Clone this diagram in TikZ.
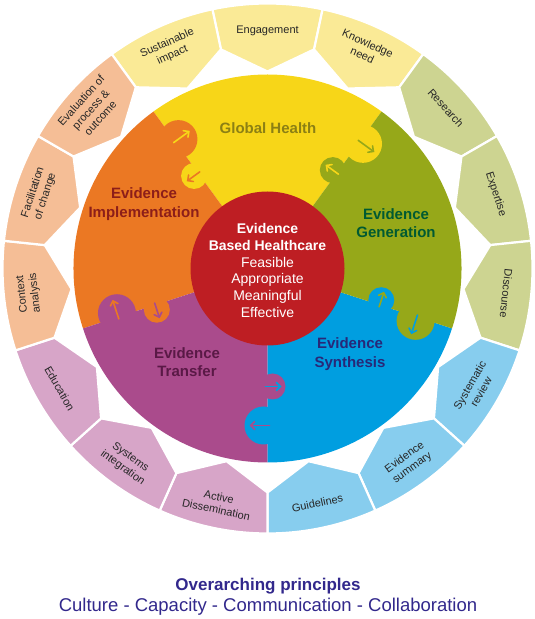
\documentclass[tikz,border=0pt]{standalone}
\usepackage{fontspec}
\setmainfont{Liberation Sans}
\usetikzlibrary{arrows.meta,calc}
\definecolor{cY}{RGB}{247,214,24}
\definecolor{cG}{RGB}{150,168,25}
\definecolor{cB}{RGB}{0,158,224}
\definecolor{cP}{RGB}{170,75,140}
\definecolor{cO}{RGB}{235,120,35}
\definecolor{cR}{RGB}{190,30,35}
\definecolor{lY}{RGB}{250,234,150}
\definecolor{lG}{RGB}{205,212,145}
\definecolor{lB}{RGB}{135,205,238}
\definecolor{lP}{RGB}{215,165,200}
\definecolor{lO}{RGB}{245,190,150}
\definecolor{tY}{RGB}{140,128,20}
\definecolor{tG}{RGB}{0,90,50}
\definecolor{tB}{RGB}{40,40,120}
\definecolor{tP}{RGB}{90,25,70}
\definecolor{tO}{RGB}{140,30,25}
\definecolor{tBot}{RGB}{50,40,140}
\begin{document}
\begin{tikzpicture}[x=1pt,y=1pt,
  seg/.style={draw=white,line width=2.2pt,line join=round},
  seglabel/.style={font=\fontsize{11}{13}\selectfont,text=black!85,align=center},
  piecelabel/.style={font=\bfseries\fontsize{15}{18.5}\selectfont,align=center},
  knobarrow/.style={line width=1.6pt,line cap=round,-{Straight Barb[length=4pt,width=8pt,line cap=round]}},
]
\useasboundingbox (0,0) rectangle (535,619);
\begin{scope}[shift={(267.5,350.5)}]
% outer ring segments
\foreach \m/\c in {90/lY,66/lY,114/lY,42/lG,18/lG,-6/lG,-30/lB,-54/lB,-78/lB,-102/lP,-126/lP,-150/lP,-174/lO,162/lO,138/lO}
  \path[seg,fill=\c] (\m-12:224) -- (\m-12:265) arc[start angle=\m-12,end angle=\m+12,radius=265] -- (\m+12:224) -- (\m:197) -- cycle;
% inner pieces
\foreach \a/\c in {54/cY,126/cO,198/cP,270/cB,342/cG}
  \fill[\c] (0,0) -- (\a:194) arc[start angle=\a,end angle=\a+72,radius=194] -- cycle;
% puzzle knobs
\foreach \b/\cc/\cw in {54/cY/cG,126/cO/cY,198/cP/cO,270/cB/cP,342/cG/cB}{
  \fill[\cc] ($(\b:157)+(\b-90:4)$) circle[radius=19];
  \fill[\cw] ($(\b:118)+(\b+90:5)$) circle[radius=13];
  \draw[knobarrow,\cw] ($(\b:157)+(\b-90:-2)$) -- ($(\b:157)+(\b-90:18)$);
  \draw[knobarrow,\cc] ($(\b:118)+(\b+90:-2)$) -- ($(\b:118)+(\b+90:14)$);
}
\fill[cR] (0,0) circle[radius=77];
\node[align=center,text=white,font=\fontsize{14}{16.7}\selectfont] (ebh) at (0,-2)
  {\textbf{Evidence}\\\textbf{Based Healthcare}\\Feasible\\Appropriate\\Meaningful\\Effective};
% piece labels
\node[piecelabel,text=tY] (gh) at (0.5,140.5) {Global Health};
\node[piecelabel,text=tG] (eg) at (128.5,45.5) {Evidence\\Generation};
\node[piecelabel,text=tB] (es) at (82.5,-85.5) {Evidence\\Synthesis};
\node[piecelabel,text=tP] (et) at (-80.5,-93.5) {Evidence\\Transfer};
\node[piecelabel,text=tO] (ei) at (-123.5,64.5) {Evidence\\Implementation};
% ring labels
\node[seglabel,rotate=0]   (s1)  at (90:238)   {Engagement};
\node[seglabel,rotate=-24] (s2)  at (66:240)   {Knowledge\\need};
\node[seglabel,rotate=-48] (s3)  at (42:240)   {Research};
\node[seglabel,rotate=-72] (s4)  at (18:240)   {Expertise};
\node[seglabel,rotate=-96] (s5)  at (-6:240)   {Discourse};
\node[seglabel,rotate=60]  (s6)  at (-30:240)  {Systematic\\review};
\node[seglabel,rotate=36]  (s7)  at (-54:240)  {Evidence\\summary};
\node[seglabel,rotate=12]  (s8)  at (-78:240)  {Guidelines};
\node[seglabel,rotate=-12] (s9)  at (-102:240) {Active\\Dissemination};
\node[seglabel,rotate=-36] (s10) at (-126:240) {Systems\\integration};
\node[seglabel,rotate=-60] (s11) at (-150:240) {Education};
\node[seglabel,rotate=96]  (s12) at (186:240)  {Context\\analysis};
\node[seglabel,rotate=72]  (s13) at (162:240)  {Facilitation\\of change};
\node[seglabel,rotate=48]  (s14) at (138:238)  {Evaluation of\\process \&\\outcome};
\node[seglabel,rotate=24]  (s15) at (114:240)  {Sustainable\\impact};
\end{scope}
\node[anchor=base,text=tBot,font=\bfseries\fontsize{17}{20}\selectfont] (op) at (268,28) {Overarching principles};
\node[anchor=base,text=tBot,font=\fontsize{18.5}{21}\selectfont] (cc) at (268,7) {Culture - Capacity - Communication - Collaboration};
\end{tikzpicture}
\end{document}
